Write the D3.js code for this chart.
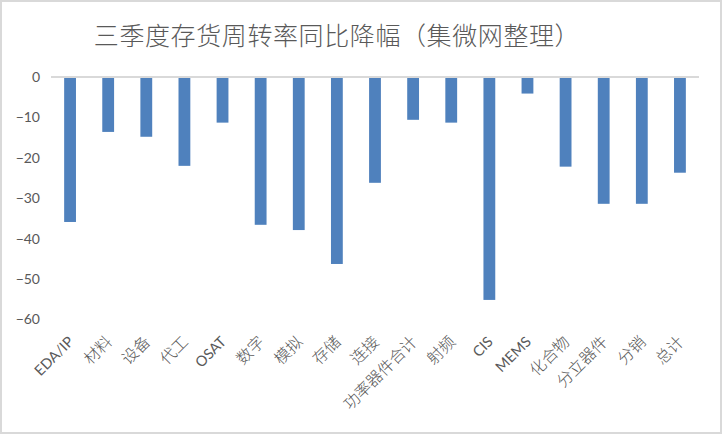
<!DOCTYPE html>
<html>
<head>
<meta charset="utf-8">
<script src="https://cdnjs.cloudflare.com/ajax/libs/d3/7.8.5/d3.min.js"></script>
<style>
  html, body { margin: 0; padding: 0; background: #fff; }
  svg { display: block; }
</style>
</head>
<body>
<svg id="chart" width="722" height="434"></svg>
<script>
// data
var categories = ['EDA/IP', '材料', '设备', '代工', 'OSAT', '数字', '模拟', '存储', '连接',
    '功率器件合计', '射频', 'CIS', 'MEMS', '化合物', '分立器件', '分销', '总计'];
var values = [-35.9, -13.6, -14.8, -22.0, -11.3, -36.6, -37.9, -46.3, -26.2,
    -10.6, -11.3, -55.2, -4.1, -22.2, -31.4, -31.4, -23.7];
var yTicks = [0, -10, -20, -30, -40, -50, -60];
var title = '三季度存货周转率同比降幅（集微网整理）';

var W = 722, H = 434,
    plot = { left: 51, right: 699, top: 77, bottom: 319.3 },
    textColor = '#595959',
    barColor = '#4F81BD',
    latin = /^[A-Za-z\/]+$/;

var svg = d3.select('#chart');

// chart frame
svg.append('rect')
    .attr('x', 1).attr('y', 1)
    .attr('width', W - 2).attr('height', H - 2)
    .attr('fill', '#fff')
    .attr('stroke', '#d9d9d9')
    .attr('stroke-width', 2);

// title
svg.append('text')
    .attr('x', 337)
    .attr('y', 45)
    .attr('text-anchor', 'middle')
    .attr('font-family', '"Noto Sans CJK SC", sans-serif')
    .attr('font-size', 25)
    .attr('font-weight', 300)
    .attr('letter-spacing', 0.6)
    .attr('fill', textColor)
    .text(title);

// scales
var x = d3.scaleBand()
    .domain(categories)
    .range([plot.left, plot.right])
    .paddingInner(0.69)
    .paddingOuter(0.345);

var y = d3.scaleLinear()
    .domain([-60, 0])
    .range([plot.bottom, plot.top]);

// y axis labels (no line, no ticks)
var yAxis = d3.axisLeft(y)
    .tickValues(yTicks)
    .tickSize(0)
    .tickPadding(0);

var gy = svg.append('g')
    .attr('transform', 'translate(40,0)')
    .call(yAxis);
gy.select('.domain').remove();
gy.selectAll('text')
    .attr('font-family', 'Lato, "Open Sans", sans-serif')
    .attr('font-size', 14)
    .attr('fill', textColor);

// bars
svg.append('g').selectAll('rect')
    .data(values)
    .join('rect')
        .attr('x', function(d, i) { return x(categories[i]); })
        .attr('y', y(0))
        .attr('width', x.bandwidth())
        .attr('height', function(d) { return y(d) - y(0); })
        .attr('fill', barColor);

// zero line
svg.append('line')
    .attr('x1', plot.left).attr('x2', plot.right)
    .attr('y1', y(0)).attr('y2', y(0))
    .attr('stroke', '#d9d9d9')
    .attr('stroke-width', 2);

// category labels, rotated
svg.append('g').selectAll('text')
    .data(categories)
    .join('text')
        .attr('transform', function(d) {
            return 'translate(' + (x(d) + x.bandwidth() / 2 + 1) + ',339) rotate(-45)';
        })
        .attr('text-anchor', 'end')
        .attr('dy', '0.35em')
        .attr('font-family', function(d) {
            return latin.test(d) ? 'Lato, "Open Sans", sans-serif' : '"Noto Sans CJK SC", sans-serif';
        })
        .attr('font-size', function(d) { return latin.test(d) ? 14.5 : 16; })
        .attr('font-weight', function(d) { return latin.test(d) ? 400 : 300; })
        .attr('fill', textColor)
        .text(function(d) { return d; });
</script>
</body>
</html>
